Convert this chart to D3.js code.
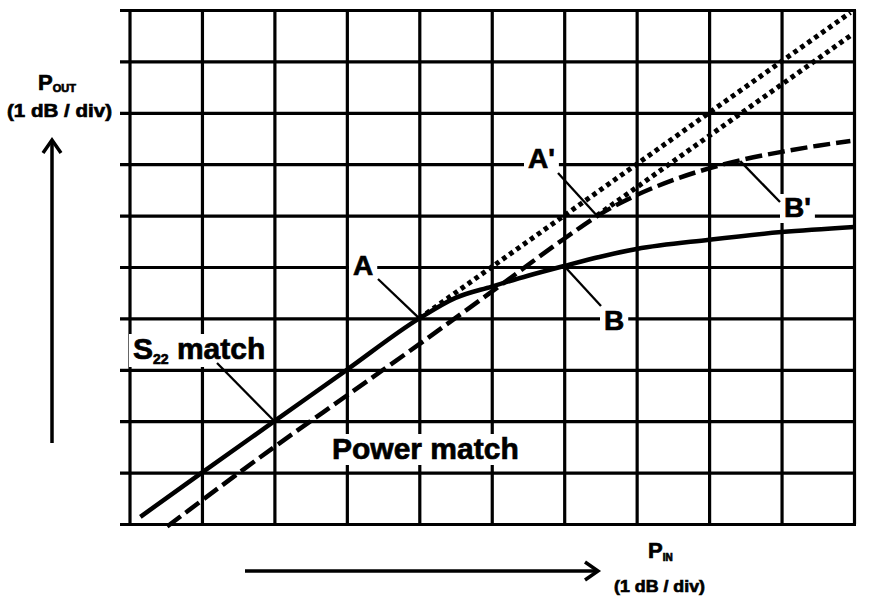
<!DOCTYPE html>
<html><head><meta charset="utf-8">
<script src="https://cdn.jsdelivr.net/npm/d3@7/dist/d3.min.js"></script>
<style>body{margin:0;background:#fff}svg{display:block}</style>
</head><body>
<svg id="c" width="872" height="607"></svg>
<script>
// ---- data (1 dB / div on both axes) ----
const gridX = d3.range(0, 11);          // P_IN grid divisions
const gridY = d3.range(0, 11);          // P_OUT grid divisions

// S22 match (solid)
const s22In  = [0.15, 1, 2, 3, 4, 4.5, 5, 5.5, 6, 6.5, 7, 8, 9, 10];
const s22Out = [0.14, 1, 2, 3, 4, 4.4, 4.62, 4.83, 5.02, 5.2, 5.35, 5.53, 5.68, 5.78];

// Power match (dashed)
const pmIn  = [0.52, 1, 2, 3, 4, 5, 6, 6.5, 7, 7.5, 8, 8.5, 9, 9.5, 9.95];
const pmOut = [-0.05, 0.46, 1.5, 2.5, 3.5, 4.52, 5.55, 6.03, 6.4, 6.69, 6.92, 7.1, 7.24, 7.36, 7.45];

// linear extrapolations (dotted)
const s22LinIn = [4, 9.95], s22LinOut = [4, 9.95];
const pmLinIn  = [6.45, 9.98], pmLinOut = [6.0, 9.53];

// annotation labels and the curve points they mark
const annText = ["A", "A'", "B", "B'", "S22 match", "Power match"];
const annIn   = [4, 6.45, 6, 8.43, 2, 2.35];
const annOut  = [4, 6.0, 5.02, 7.06, 2, 1.85];

// axis titles
const yTitle = ["P", "OUT", "(1 dB / div)"];
const xTitle = ["P", "IN", "(1 dB / div)"];

// ---- drawing ----
const svg = d3.select("#c");
const FONT = "'Liberation Sans', Arial, sans-serif";
const x = d3.scaleLinear().domain([0, 10]).range([129.5, 854]);
const y = d3.scaleLinear().domain([0, 10]).range([524, 10]);

// grid
const gv = svg.append("g").attr("transform", "translate(0,524)")
  .call(d3.axisBottom(x).tickValues(gridX).tickSize(-(524 - 10)).tickFormat(""));
const gh = svg.append("g").attr("transform", "translate(120,0)")
  .call(d3.axisLeft(y).tickValues(gridY).tickSize(-(856 - 120)).tickFormat(""));
[gv, gh].forEach(g => {
  g.select(".domain").remove();
  g.selectAll(".tick line").attr("stroke", "#000").attr("stroke-width", 3.2);
});

const line = d3.line().x(d => x(d[0])).y(d => y(d[1]));
const curve = d3.line().x(d => x(d[0])).y(d => y(d[1])).curve(d3.curveMonotoneX);
const zip = (a, b) => a.map((v, i) => [v, b[i]]);

// dotted extrapolations
[[s22LinIn, s22LinOut], [pmLinIn, pmLinOut]].forEach(([a, b]) => {
  svg.append("path").attr("d", line(zip(a, b)))
    .attr("fill", "none").attr("stroke", "#000").attr("stroke-width", 5)
    .attr("stroke-dasharray", "4.5,4");
});

// curves
svg.append("path").attr("d", curve(zip(s22In, s22Out)))
  .attr("fill", "none").attr("stroke", "#000").attr("stroke-width", 4.5);
svg.append("path").attr("d", curve(zip(pmIn, pmOut)))
  .attr("fill", "none").attr("stroke", "#000").attr("stroke-width", 4.5).attr("stroke-dasharray", "17,6");

// annotation layout (label position in px, pointer end near label)
const annLayout = [
  {tx: 353, ty: 275, px: 378, py: 279},
  {tx: 528, ty: 168, px: 558, py: 173},
  {tx: 604, ty: 330, px: 601, py: 306},
  {tx: 784, ty: 217, px: 780, py: 202},
  {tx: 133, ty: 359, px: 217, py: 363},
  {tx: 332, ty: 459, px: 300, py: 428}
];

const textStyle = sel => sel.attr("font-family", FONT).attr("font-weight", "bold")
  .attr("fill", "#000").attr("stroke", "#000").attr("stroke-width", 0.7);

const labG = svg.append("g");
annText.forEach((t, i) => {
  const L = annLayout[i];
  svg.append("line").attr("x1", L.px).attr("y1", L.py)
    .attr("x2", x(annIn[i])).attr("y2", y(annOut[i]))
    .attr("stroke", "#000").attr("stroke-width", 2.3);
  const g = labG.append("g");
  const rect = g.append("rect").attr("fill", "#fff");
  const txt = g.append("text").attr("x", L.tx).attr("y", L.ty).call(textStyle);
  if (t.startsWith("S22")) {
    txt.append("tspan").attr("font-size", 30).text("S");
    txt.append("tspan").attr("font-size", 14).attr("dy", 5).text("22");
    txt.append("tspan").attr("font-size", 30).attr("dy", -5).text(" match");
  } else if (t.startsWith("Power")) {
    txt.attr("font-size", 30).text(t);
  } else {
    txt.attr("font-size", 28).text(t);
  }
  const bb = txt.node().getBBox();
  rect.attr("x", bb.x - 4).attr("y", bb.y + 2).attr("width", bb.width + 8).attr("height", bb.height - 2);
});

// y axis title and arrow
const yt = svg.append("text").attr("x", 38).attr("y", 90).call(textStyle);
yt.append("tspan").attr("font-size", 22).text(yTitle[0]);
yt.append("tspan").attr("font-size", 11).attr("dy", 2).text(yTitle[1]);
svg.append("text").attr("x", 7).attr("y", 117).call(textStyle).attr("font-size", 19)
  .attr("textLength", 105).attr("lengthAdjust", "spacingAndGlyphs").text(yTitle[2]);
svg.append("line").attr("x1", 52).attr("y1", 443).attr("x2", 52).attr("y2", 141)
  .attr("stroke", "#000").attr("stroke-width", 3.5);
svg.append("polyline").attr("points", "43,153 52,140 61,153")
  .attr("fill", "none").attr("stroke", "#000").attr("stroke-width", 3.5);

// x axis title and arrow
const xt = svg.append("text").attr("x", 648).attr("y", 558).call(textStyle);
xt.append("tspan").attr("font-size", 22).text(xTitle[0]);
xt.append("tspan").attr("font-size", 10).attr("dy", 3).text(xTitle[1]);
svg.append("text").attr("x", 614).attr("y", 592).call(textStyle).attr("font-size", 17)
  .attr("textLength", 91).attr("lengthAdjust", "spacingAndGlyphs").text(xTitle[2]);
svg.append("line").attr("x1", 245).attr("y1", 571).attr("x2", 597).attr("y2", 571)
  .attr("stroke", "#000").attr("stroke-width", 3.5);
svg.append("polyline").attr("points", "585,562 598,571 585,580")
  .attr("fill", "none").attr("stroke", "#000").attr("stroke-width", 3.5);
</script>
</body></html>
